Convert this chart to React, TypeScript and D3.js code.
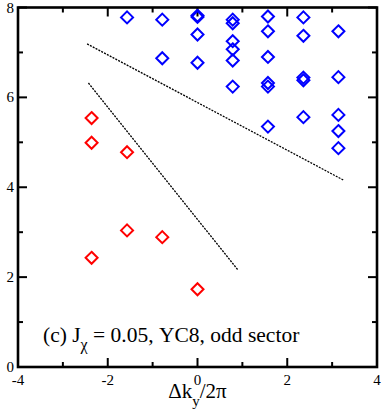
import React from 'react';
import * as d3 from 'd3';

// odd sector, red (lower) states
const redX = [-2.36, -2.36, -1.57, -1.57, -0.785, -2.36, 0];
const redY = [5.54, 4.99, 4.78, 3.04, 2.89, 2.43, 1.73];

// blue (upper) states
const blueX = [
  -1.57, -0.785, -0.785, 0, 0, 0, 0,
  0.785, 0.785, 0.785, 0.785, 0.785, 0.785,
  1.57, 1.57, 1.57, 1.57, 1.57, 1.57,
  2.36, 2.36, 2.36, 2.36, 2.36,
  3.14, 3.14, 3.14, 3.14, 3.14,
];
const blueY = [
  7.78, 7.73, 6.87, 7.82, 7.79, 7.40, 6.77,
  7.73, 7.65, 7.25, 7.07, 6.82, 6.24,
  7.80, 7.47, 6.90, 6.32, 6.24, 5.35,
  7.78, 7.37, 6.44, 6.38, 5.56,
  7.47, 6.45, 5.61, 5.25, 4.87,
];

// dashed guide lines (endpoints)
const guide1X = [-2.46, 3.27];
const guide1Y = [7.19, 4.15];
const guide2X = [-2.43, 0.9];
const guide2Y = [6.32, 2.16];

const xMajor = [-4, -2, 0, 2, 4];
const xMinor = [-3, -1, 1, 3];
const yMajor = [0, 2, 4, 6, 8];
const yMinor = [1, 3, 5, 7];

const W = 382;
const H = 416;
const margin = { top: 7.5, right: 5, bottom: 49, left: 18 };
const FONT = '"Liberation Serif", "Times New Roman", Times, serif';

const App = () => {
  const x = d3.scaleLinear().domain([-4, 4]).range([margin.left, W - margin.right]);
  const y = d3.scaleLinear().domain([0, 8]).range([H - margin.bottom, margin.top]);
  const x0 = x(-4), x1 = x(4), y0 = y(0), y1 = y(8);

  const diamond = (cx: number, cy: number, r = 6) =>
    `M${cx},${cy - r}L${cx + r},${cy}L${cx},${cy + r}L${cx - r},${cy}Z`;

  const guide = (xs: number[], ys: number[]) =>
    d3.line<number>().x((d) => x(d)).y((_, i) => y(ys[i]))(xs) || '';

  const majLen = 9;
  const minLen = 5;

  return (
    <svg width={W} height={H} style={{ position: 'absolute', left: 0, top: 0, background: '#fff' }}>
      {/* ticks, inward on all four sides */}
      <g stroke="#000" strokeWidth={2}>
        {xMajor.concat(xMinor).map((t) => {
          const len = xMajor.includes(t) ? majLen : minLen;
          return (
            <g key={'xt' + t}>
              <line x1={x(t)} x2={x(t)} y1={y0} y2={y0 - len} />
              <line x1={x(t)} x2={x(t)} y1={y1} y2={y1 + len} />
            </g>
          );
        })}
        {yMajor.concat(yMinor).map((t) => {
          const len = yMajor.includes(t) ? majLen : minLen;
          return (
            <g key={'yt' + t}>
              <line y1={y(t)} y2={y(t)} x1={x0} x2={x0 + len} />
              <line y1={y(t)} y2={y(t)} x1={x1} x2={x1 - len} />
            </g>
          );
        })}
      </g>

      {/* guide lines */}
      <g fill="none" stroke="#000" strokeWidth={1.3} strokeDasharray="2,1.2">
        <path d={guide(guide1X, guide1Y)} />
        <path d={guide(guide2X, guide2Y)} />
      </g>

      {/* markers */}
      <g fill="none" stroke="#0000ff" strokeWidth={2}>
        {blueX.map((d, i) => (
          <path key={'b' + i} d={diamond(x(d), y(blueY[i]))} />
        ))}
      </g>
      <g fill="none" stroke="#ff0000" strokeWidth={2}>
        {redX.map((d, i) => (
          <path key={'r' + i} d={diamond(x(d), y(redY[i]))} />
        ))}
      </g>

      {/* frame */}
      <rect x={x0} y={y1} width={x1 - x0} height={y0 - y1} fill="none" stroke="#000" strokeWidth={2.6} />

      {/* tick labels */}
      <g style={{ fontFamily: FONT }} fontSize={15} fill="#000">
        {xMajor.map((t) => (
          <text key={'xl' + t} x={x(t)} y={y0 + 18} textAnchor="middle">
            {t < 0 ? '-' + Math.abs(t) : t}
          </text>
        ))}
        {yMajor.map((t) => (
          <text key={'yl' + t} x={x0 - 4} y={y(t) + 5} textAnchor="end">
            {t}
          </text>
        ))}
      </g>

      {/* axis label */}
      <text x={x(0)} y={398} textAnchor="middle" style={{ fontFamily: FONT }} fontSize={21}>
        Δk<tspan fontSize={15} dy={8}>y</tspan>
        <tspan dy={-8}>/2π</tspan>
      </text>

      {/* annotation */}
      <text x={43} y={342} style={{ fontFamily: FONT }} fontSize={21.5}>
        (c) J<tspan fontSize={16} dy={8}>χ</tspan>
        <tspan dy={-8}> = 0.05, YC8, odd sector</tspan>
      </text>
    </svg>
  );
};

export default App;
